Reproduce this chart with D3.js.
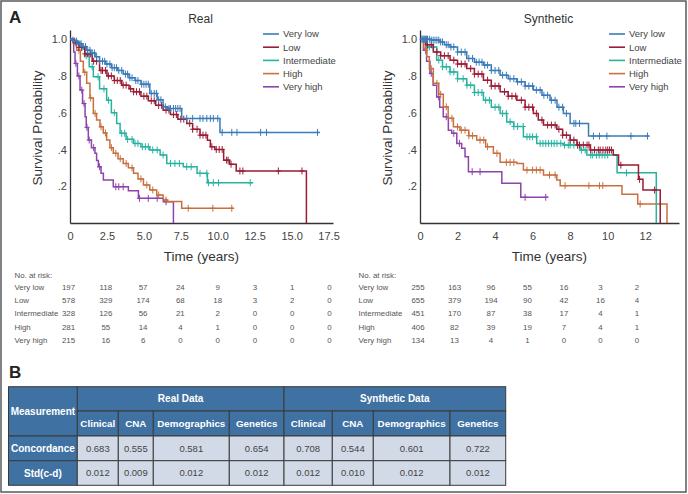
<!DOCTYPE html>
<html><head><meta charset="utf-8">
<script src="https://cdn.jsdelivr.net/npm/d3@7"></script>
<style>body{margin:0;background:#fff}svg{display:block;font-family:"Liberation Sans",Arial,sans-serif}</style>
</head><body>
<svg id="c" width="688" height="494"></svg>
<script>
// ---------- DATA ----------
const groups = ["Very low","Low","Intermediate","High","Very high"];
const groupColors = ["#3a7bb8","#9a1c35","#27b3a0","#c8703e","#8d44ab"];

// Real data KM steps (time of drop, survival after drop)
const realVeryLowTime = [0.2,0.5,0.8,1.1,1.4,1.7,2.0,2.4,2.8,3.2,3.6,4.0,4.4,4.8,5.4,5.9,6.3,6.6,7.56,10.15];
const realVeryLowSurv = [0.99,0.975,0.96,0.94,0.925,0.905,0.88,0.865,0.845,0.83,0.81,0.79,0.775,0.755,0.705,0.67,0.632,0.623,0.569,0.493];
const realVeryLowCensor = [0.3,0.45,0.6,0.75,0.9,1.05,1.2,1.35,1.5,1.65,1.8,2.0,2.2,2.35,2.5,2.7,2.85,3.0,3.15,3.3,3.5,3.75,3.9,4.05,4.2,4.45,4.6,4.85,5.0,5.15,5.3,5.5,5.7,5.85,6.0,6.15,6.45,6.7,6.8,7.0,7.15,7.3,7.45,7.9,8.3,8.8,9.0,9.26,9.5,9.7,10.0,10.3,10.95,11.3,12.9,13.3,16.75];
const realLowTime = [0.3,0.6,1.0,1.5,2.0,2.5,3.0,3.5,4.0,4.3,4.8,5.3,5.8,6.3,6.8,7.3,7.9,8.3,8.8,9.3,9.5,9.8,10.4,10.8,11.25,16.0];
const realLowSurv = [0.98,0.955,0.92,0.88,0.83,0.8,0.775,0.75,0.73,0.714,0.69,0.665,0.64,0.614,0.59,0.565,0.542,0.51,0.478,0.45,0.415,0.40,0.342,0.32,0.283,0];
const realLowCensor = [0.4,0.6,0.8,1.0,1.2,1.4,1.6,1.8,2.1,2.2,2.4,2.6,2.8,3.0,3.2,3.4,3.6,3.8,4.1,4.3,4.5,4.7,5.0,5.2,5.5,5.7,6.0,6.2,6.5,6.7,7.0,7.2,7.5,7.7,8.1,8.3,8.6,8.8,9.0,9.2,9.6,9.9,10.1,10.3,10.6,10.7,10.9,11.5,11.7,14.1,15.7];
const realIntTime = [0.3,0.68,1.0,1.3,1.58,2.0,2.48,2.8,3.16,3.39,3.8,4.3,4.8,5.4,6.1,6.55,7.67,8.6,9.3];
const realIntSurv = [0.985,0.96,0.91,0.85,0.795,0.73,0.668,0.6,0.542,0.488,0.455,0.433,0.415,0.397,0.37,0.324,0.306,0.27,0.219];
const realIntCensor = [0.8,1.1,1.5,1.9,2.3,2.6,3.0,3.5,3.7,3.9,4.2,4.4,4.6,4.9,5.1,5.3,5.6,5.9,6.3,6.8,7.1,7.4,7.9,8.2,8.8,9.26,9.37,9.7,10.05,12.2];
const realHighTime = [0.2,0.45,0.7,0.9,1.13,1.35,1.58,1.8,2.03,2.25,2.48,2.7,2.93,3.25,3.6,3.95,4.3,4.6,4.97,5.4,5.87,6.3,6.6,7.56];
const realHighSurv = [0.98,0.94,0.88,0.82,0.76,0.68,0.596,0.56,0.523,0.49,0.451,0.41,0.379,0.35,0.324,0.3,0.27,0.24,0.207,0.18,0.152,0.125,0.117,0.08];
const realHighCensor = [0.6,1.0,1.4,1.7,2.1,2.4,2.8,3.1,3.4,3.8,4.2,4.8,5.2,5.6,6.0,6.5,8.0,9.67,10.95];
const realVHighTime = [0.12,0.25,0.34,0.5,0.68,0.85,1.02,1.1,1.24,1.45,1.69,1.8,1.92,2.1,2.26,2.93,3.95,4.63,6.32,7.0];
const realVHighSurv = [0.995,0.93,0.868,0.8,0.723,0.65,0.578,0.52,0.451,0.41,0.379,0.34,0.306,0.27,0.234,0.197,0.176,0.134,0.116,0];
const realVHighCensor = [0.2,0.4,0.6,0.8,0.95,1.15,1.3,1.6,2.0,3.1,3.3,3.6,4.7,5.3,5.9,6.5];
const realEnds = [16.9,16.0,12.4,11.1,7.0];

// Synthetic data KM steps
const synVeryLowTime = [0.6,1.07,1.3,1.6,2.0,2.49,2.9,3.38,3.8,4.27,4.7,5.16,5.6,6.04,6.5,6.93,7.3,7.64,8.0,8.98];
const synVeryLowSurv = [0.995,0.985,0.97,0.958,0.93,0.895,0.875,0.859,0.83,0.804,0.785,0.768,0.745,0.723,0.695,0.668,0.63,0.596,0.542,0.473];
const synVeryLowCensor = [0.1,0.15,0.2,0.25,0.3,0.35,0.4,0.5,0.6,0.7,0.8,0.9,1.0,1.1,1.2,1.4,1.5,1.65,1.8,2.0,2.2,2.4,2.6,2.8,3.0,3.15,3.3,3.45,3.6,3.8,4.0,4.2,4.4,4.6,4.8,5.0,5.2,5.4,5.6,5.8,6.0,6.2,6.4,6.6,6.8,7.0,7.2,7.4,7.6,7.8,8.2,8.3,8.5,9.24,9.56,9.96,11.24,12.12];
const synLowTime = [0.3,0.71,1.1,1.6,2.0,2.49,2.9,3.38,3.8,4.27,4.7,5.16,5.6,6.04,6.3,6.58,7.29,7.6,8.0,8.36,9.07,10.3,10.58,11.64,11.88,12.8];
const synLowSurv = [0.97,0.93,0.91,0.886,0.865,0.84,0.81,0.777,0.745,0.714,0.69,0.668,0.63,0.596,0.56,0.533,0.51,0.478,0.451,0.424,0.397,0.37,0.315,0.2375,0.179,0];
const synLowCensor = [0.4,0.6,0.9,1.1,1.3,1.5,1.8,2.0,2.2,2.4,2.7,2.9,3.1,3.3,3.6,3.8,4.0,4.2,4.5,4.7,4.9,5.1,5.4,5.6,5.8,6.0,6.2,6.5,6.8,7.0,7.2,7.4,7.6,7.8,8.0,8.2,8.4,8.5,8.7,8.9,9.0,9.1,9.3,9.5,9.6,9.75,9.9,10.0,10.1,10.2,10.7,11.7,12.5];
const synIntTime = [0.36,0.89,1.2,1.6,2.0,2.49,2.9,3.38,3.8,4.27,4.62,5.0,5.51,6.22,7.64,8.53,8.89,10.5,12.59];
const synIntSurv = [0.958,0.886,0.85,0.822,0.785,0.75,0.71,0.668,0.63,0.596,0.55,0.525,0.469,0.433,0.424,0.397,0.37,0.273,0];
const synIntCensor = [0.5,0.7,1.0,1.2,1.4,1.6,1.8,2.0,2.3,2.5,2.7,2.9,3.1,3.3,3.5,3.7,4.0,4.2,4.4,4.6,4.8,5.0,5.2,5.5,5.7,5.85,6.0,6.2,6.4,6.55,6.7,6.85,7.0,7.15,7.3,7.5,7.7,7.9,8.0,8.2,8.4,8.6,8.8,9.1,9.2,9.4,9.55,9.7,9.85,10.0,11.0];
const synHighTime = [0.2,0.36,0.5,0.71,1.0,1.24,1.5,1.78,2.13,2.6,3.02,3.5,3.91,4.27,5.16,5.51,6.58,7.29,7.47,10.76,11.6,13.16];
const synHighSurv = [0.95,0.904,0.84,0.76,0.7,0.632,0.57,0.523,0.505,0.475,0.451,0.415,0.379,0.33,0.324,0.288,0.261,0.234,0.203,0.156,0.103,0];
const synHighCensor = [0.3,0.6,0.9,1.1,1.4,1.7,2.0,2.2,2.4,2.6,2.8,3.2,3.4,3.6,4.1,4.6,4.8,5.0,5.7,6.0,6.2,6.4,6.9,7.2,7.73,9.0,9.56,9.74,11.73];
const synVHighTime = [0.18,0.35,0.53,0.7,0.89,1.05,1.24,1.51,1.69,1.96,2.22,2.4,2.58,4.36,5.37];
const synVHighSurv = [0.94,0.88,0.814,0.75,0.686,0.63,0.578,0.505,0.488,0.433,0.406,0.36,0.279,0.216,0.14];
const synVHighCensor = [0.3,0.6,1.0,1.4,1.8,2.1,2.78,3.2,5.6,6.7];
const synEnds = [12.2,12.8,12.59,13.16,6.84];

// axes ticks
const realXTicks = [0,2.5,5,7.5,10,12.5,15,17.5];
const realXTickLabels = ["0","2.5","5.0","7.5","10.0","12.5","15.0","17.5"];
const synXTicks = [0,2,4,6,8,10,12];
const synXTickLabels = ["0","2","4","6","8","10","12"];
const yTicks = [0.2,0.4,0.6,0.8,1.0];
const yTickLabels = [".2",".4",".6",".8","1.0"];

// number at risk
const realRiskVeryLow = [197,118,57,24,9,3,1,0];
const realRiskLow = [578,329,174,68,18,3,2,0];
const realRiskInt = [328,126,56,21,2,0,0,0];
const realRiskHigh = [281,55,14,4,1,0,0,0];
const realRiskVHigh = [215,16,6,0,0,0,0,0];
const synRiskVeryLow = [255,163,96,55,16,3,2];
const synRiskLow = [655,379,194,90,42,16,4];
const synRiskInt = [451,170,87,38,17,4,1];
const synRiskHigh = [406,82,39,19,7,4,1];
const synRiskVHigh = [134,13,4,1,0,0,0];

// concordance table
const tableFeatures = ["Clinical","CNA","Demographics","Genetics"];
const tableRows = ["Concordance","Std(c-d)"];
const realConcordance = ["0.683","0.555","0.581","0.654"];
const realStd = ["0.012","0.009","0.012","0.012"];
const synConcordance = ["0.708","0.544","0.601","0.722"];
const synStd = ["0.012","0.010","0.012","0.012"];

// ---------- DRAW ----------
const svg = d3.select("#c");
svg.append("rect").attr("x",1).attr("y",1).attr("width",685).attr("height",491)
  .attr("fill","#fff").attr("stroke","#5a5a5a").attr("stroke-width",1.5);

svg.append("text").attr("x",9).attr("y",23).attr("font-size",17).attr("font-weight","bold").attr("fill","#222").text("A");
svg.append("text").attr("x",9).attr("y",378).attr("font-size",17).attr("font-weight","bold").attr("fill","#222").text("B");

const y = d3.scaleLinear().domain([0,1.05]).range([223,30]);

function survAt(T,S,t){ let s=1; for(let i=0;i<T.length;i++){ if(T[i]<=t) s=S[i]; else break;} return s; }

function drawKM(opts){
  const {x, series, ends, title, xTicks, xTickLabels, legendX} = opts;
  const g = svg.append("g");
  const ax = g.append("g").attr("transform","translate(0,223)")
    .call(d3.axisBottom(x).tickValues(xTicks).tickFormat((d,i)=>xTickLabels[i]).tickSize(0).tickSizeOuter(0).tickPadding(9));
  const ay = g.append("g").attr("transform",`translate(${x.range()[0]},0)`)
    .call(d3.axisLeft(y).tickValues(yTicks).tickFormat((d,i)=>yTickLabels[i]).tickSize(0).tickSizeOuter(0).tickPadding(3));
  [ax,ay].forEach(a=>{
    a.select(".domain").attr("stroke","#333").attr("stroke-width",1.3);
    a.selectAll("text").attr("font-size",11).attr("fill","#444").attr("font-family","Liberation Sans, Arial, sans-serif");
  });
  const cx = (x.range()[0]+x.range()[1])/2;
  g.append("text").attr("x",cx).attr("y",261).attr("text-anchor","middle").attr("font-size",13.5).attr("fill","#333").text("Time (years)");
  g.append("text").attr("transform",`translate(${x.range()[0]-28},128) rotate(-90)`).attr("text-anchor","middle")
    .attr("font-size",13.5).attr("fill","#333").text("Survival Probability");
  g.append("text").attr("x",cx-1).attr("y",23).attr("text-anchor","middle").attr("font-size",12).attr("fill","#333").text(title);

  const line = d3.line().x(d=>x(d[0])).y(d=>y(d[1])).curve(d3.curveStepAfter);
  for(let k=series.length-1;k>=0;k--){
    const [T,S,C] = series[k];
    const pts=[[0,1]];
    T.forEach((t,i)=>pts.push([t,S[i]]));
    const last = T[T.length-1];
    if(ends[k]>last) pts.push([ends[k],S[S.length-1]]);
    const col = groupColors[k];
    g.append("path").datum(pts).attr("d",line).attr("fill","none").attr("stroke",col).attr("stroke-width",1.5);
    const cg = g.append("g").attr("stroke",col).attr("stroke-width",1);
    C.forEach(c=>{
      const px=x(c), py=y(survAt(T,S,c));
      cg.append("line").attr("x1",px).attr("x2",px).attr("y1",py-3.5).attr("y2",py+3.5);
      cg.append("line").attr("x1",px-2.5).attr("x2",px+2.5).attr("y1",py).attr("y2",py);
    });
  }
  groups.forEach((gname,i)=>{
    const ly = 34 + i*13.2;
    g.append("line").attr("x1",legendX).attr("x2",legendX+16).attr("y1",ly).attr("y2",ly)
      .attr("stroke",groupColors[i]).attr("stroke-width",1.6);
    g.append("text").attr("x",legendX+20).attr("y",ly).attr("dy","0.35em").attr("font-size",9.5).attr("fill","#444").text(gname);
  });
}

const xL = d3.scaleLinear().domain([0,17.8]).range([70,333]);
const xR = d3.scaleLinear().domain([0,13.8]).range([420,679]);

drawKM({x:xL, title:"Real", xTicks:realXTicks, xTickLabels:realXTickLabels, legendX:263, ends:realEnds,
  series:[[realVeryLowTime,realVeryLowSurv,realVeryLowCensor],[realLowTime,realLowSurv,realLowCensor],
          [realIntTime,realIntSurv,realIntCensor],[realHighTime,realHighSurv,realHighCensor],
          [realVHighTime,realVHighSurv,realVHighCensor]]});
drawKM({x:xR, title:"Synthetic", xTicks:synXTicks, xTickLabels:synXTickLabels, legendX:609, ends:synEnds,
  series:[[synVeryLowTime,synVeryLowSurv,synVeryLowCensor],[synLowTime,synLowSurv,synLowCensor],
          [synIntTime,synIntSurv,synIntCensor],[synHighTime,synHighSurv,synHighCensor],
          [synVHighTime,synVHighSurv,synVHighCensor]]});

function riskTable(labelX, colScale, rows){
  const g = svg.append("g").attr("font-size",7.9).attr("fill","#555");
  g.append("text").attr("x",labelX).attr("y",275).attr("dy","0.35em").text("No. at risk:");
  rows.forEach((r,i)=>{
    const ry = 287 + i*13.3;
    g.append("text").attr("x",labelX).attr("y",ry).attr("dy","0.35em").text(groups[i]);
    r.forEach((v,j)=>{
      g.append("text").attr("x",colScale(j)).attr("y",ry).attr("dy","0.35em").attr("text-anchor","middle").text(v);
    });
  });
}
riskTable(14.5, d3.scaleLinear().domain([0,7]).range([68.5,329.5]),
  [realRiskVeryLow,realRiskLow,realRiskInt,realRiskHigh,realRiskVHigh]);
riskTable(358.5, d3.scaleLinear().domain([0,6]).range([418,637]),
  [synRiskVeryLow,synRiskLow,synRiskInt,synRiskHigh,synRiskVHigh]);

const colEdges = [8.5,77.3,118.3,153.3,229.3,284,332.3,373.3,450,505.7];
const rowEdges = [386.7,411,436,460.7,485.3];
const hdr = "#3f72a3", cell = "#d2dae8", border="#3b3b3b";
const tg = svg.append("g");
function cellRect(x0,x1,y0,y1,fill){
  tg.append("rect").attr("x",x0).attr("y",y0).attr("width",x1-x0).attr("height",y1-y0)
    .attr("fill",fill).attr("stroke",border).attr("stroke-width",1);
}
function cellText(x0,x1,y0,y1,txt,bold,color,size){
  tg.append("text").attr("x",(x0+x1)/2).attr("y",(y0+y1)/2).attr("dy","0.35em").attr("text-anchor","middle")
    .attr("font-size",size).attr("font-weight",bold?"bold":"normal").attr("fill",color).text(txt);
}
cellRect(colEdges[0],colEdges[1],rowEdges[0],rowEdges[2],hdr);
cellText(colEdges[0],colEdges[1],rowEdges[0],rowEdges[2],"Measurement",true,"#fff",10);
cellRect(colEdges[1],colEdges[5],rowEdges[0],rowEdges[1],hdr);
cellText(colEdges[1],colEdges[5],rowEdges[0],rowEdges[1],"Real Data",true,"#fff",10);
cellRect(colEdges[5],colEdges[9],rowEdges[0],rowEdges[1],hdr);
cellText(colEdges[5],colEdges[9],rowEdges[0],rowEdges[1],"Synthetic Data",true,"#fff",10);
const allFeat = tableFeatures.concat(tableFeatures);
allFeat.forEach((f,i)=>{
  cellRect(colEdges[i+1],colEdges[i+2],rowEdges[1],rowEdges[2],hdr);
  cellText(colEdges[i+1],colEdges[i+2],rowEdges[1],rowEdges[2],f,true,"#fff",9.8);
});
const rowVals = [realConcordance.concat(synConcordance), realStd.concat(synStd)];
tableRows.forEach((r,ri)=>{
  const y0=rowEdges[ri+2], y1=rowEdges[ri+3];
  cellRect(colEdges[0],colEdges[1],y0,y1,hdr);
  cellText(colEdges[0],colEdges[1],y0,y1,r,true,"#fff",10);
  rowVals[ri].forEach((v,i)=>{
    cellRect(colEdges[i+1],colEdges[i+2],y0,y1,cell);
    cellText(colEdges[i+1],colEdges[i+2],y0,y1,v,false,"#444",9.5);
  });
});
</script>
</body></html>
